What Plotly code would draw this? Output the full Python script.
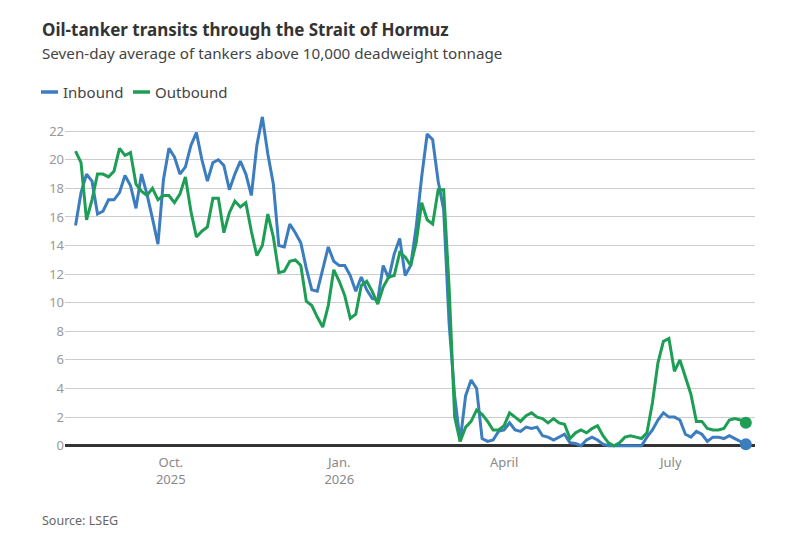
import pandas as pd
import plotly.graph_objects as go

# seven-day averages, read every third day from 10 Aug 2025
dates = pd.date_range("2025-08-10", periods=123, freq="3D")

inbound = [
    15.4, 17.7, 19.0, 18.5, 16.2, 16.4, 17.2, 17.2, 17.7, 18.9,
    18.2, 16.6, 19.0, 17.6, 15.9, 14.1, 18.6, 20.8, 20.2, 19.0,
    19.5, 21.0, 21.9, 20.0, 18.5, 19.8, 20.0, 19.6, 17.9, 19.0,
    19.9, 19.0, 17.5, 21.0, 23.0, 20.4, 18.3, 14.0, 13.9, 15.5,
    14.9, 14.2, 12.4, 10.9, 10.8, 12.3, 13.9, 12.9, 12.6, 12.6,
    11.9, 10.8, 11.8, 10.9, 10.3, 10.2, 12.6, 11.7, 13.4, 14.5,
    11.9, 12.6, 15.3, 18.8, 21.8, 21.4, 18.5, 16.5, 8.5, 3.5,
    0.3, 3.5, 4.6, 4.0, 0.5, 0.3, 0.4, 1.0, 1.1, 1.6,
    1.1, 1.0, 1.3, 1.2, 1.3, 0.7, 0.6, 0.4, 0.6, 0.8,
    0.2, 0.15, 0.0, 0.4, 0.6, 0.4, 0.1, 0.0, 0.0, 0.0,
    0.0, 0.0, 0.0, 0.0, 0.6, 1.1, 1.8, 2.3, 2.0, 2.0,
    1.8, 0.8, 0.6, 1.0, 0.8, 0.3, 0.6, 0.6, 0.5, 0.7,
    0.5, 0.3, 0.1,
]

outbound = [
    20.6, 19.8, 15.8, 17.2, 19.0, 19.0, 18.8, 19.2, 20.8, 20.3,
    20.5, 18.3, 17.8, 17.5, 18.0, 17.2, 17.5, 17.5, 17.0, 17.6,
    18.8, 16.4, 14.6, 15.0, 15.3, 17.3, 17.3, 14.9, 16.3, 17.1,
    16.7, 17.0, 15.0, 13.3, 14.0, 16.2, 14.6, 12.1, 12.2, 12.9,
    13.0, 12.6, 10.1, 9.8, 9.0, 8.3, 9.8, 12.3, 11.5, 10.5,
    8.9, 9.2, 11.2, 11.5, 10.8, 9.9, 11.1, 11.8, 11.9, 13.5,
    13.2, 12.6, 14.2, 17.0, 15.8, 15.5, 17.9, 17.9, 11.0, 2.0,
    0.3, 1.3, 1.7, 2.5, 2.2, 1.7, 1.1, 1.1, 1.4, 2.3,
    2.0, 1.7, 2.1, 2.3, 2.0, 1.9, 1.6, 1.9, 1.6, 1.5,
    0.5, 0.9, 1.1, 0.9, 1.2, 1.4, 0.7, 0.2, 0.0, 0.2,
    0.6, 0.7, 0.6, 0.5, 0.9, 3.0, 5.8, 7.3, 7.5, 5.2,
    6.0, 4.8, 3.6, 1.7, 1.7, 1.2, 1.1, 1.1, 1.2, 1.8,
    1.9, 1.8, 1.6,
]

tick_dates = ["2025-10-01", "2026-01-01", "2026-04-01", "2026-07-01"]
tick_text = ["Oct.<br>2025", "Jan.<br>2026", "April", "July"]

BLUE = "#3b7dbf"
GREEN = "#1e9e55"
FONT = "Noto Sans"

# plot box in pixels, used to place the text outside it
L, R, T, B = 65, 55, 114, 93
PW, PH = 810 - L - R, 543 - T - B


def px(x):
    return (x - L) / PW


def py(y):
    return (543 - B - y) / PH


fig = go.Figure()
for name, vals, col in [("Inbound", inbound, BLUE), ("Outbound", outbound, GREEN)]:
    fig.add_trace(go.Scatter(x=dates, y=vals, name=name, mode="lines",
                             line=dict(color=col, width=3), cliponaxis=False,
                             hoverinfo="skip"))
    # dot on the latest value
    fig.add_trace(go.Scatter(x=[dates[-1]], y=[vals[-1]], mode="markers",
                             marker=dict(color=col, size=12), cliponaxis=False,
                             hoverinfo="skip"))

fig.update_layout(
    width=810, height=543,
    margin=dict(l=L, r=R, t=T, b=B, autoexpand=False),
    paper_bgcolor="white", plot_bgcolor="white",
    font=dict(family=FONT, color="#444"),
    showlegend=False,
)

texts = [
    ("<b>Oil-tanker transits through the Strait of Hormuz</b>", 40, 29, 17, "#333"),
    ("Seven-day average of tankers above 10,000 deadweight tonnage", 40, 53, 15.2, "#444"),
    ("Inbound", 61, 92, 15, "#444"),
    ("Outbound", 153, 92, 15, "#444"),
    ("Source: LSEG", 40, 520, 12.5, "#666"),
]
for t, x, y, s, c in texts:
    fig.add_annotation(text=t, xref="paper", yref="paper", x=px(x), y=py(y),
                       xanchor="left", yanchor="middle", showarrow=False,
                       font=dict(size=s, color=c, family=FONT))

# legend keys
for x0, col in [(41, BLUE), (133, GREEN)]:
    fig.add_shape(type="line", xref="paper", yref="paper", x0=px(x0), x1=px(x0 + 17),
                  y0=py(92), y1=py(92), line=dict(color=col, width=3.5))

fig.update_xaxes(range=["2025-08-04 06:00", "2026-08-16"], tickvals=tick_dates,
                 ticktext=tick_text, showgrid=False, showline=False, ticks="",
                 ticklabelstandoff=3, tickfont=dict(size=13, color="#888"))
fig.update_yaxes(range=[-0.3, 23.2], tickvals=list(range(0, 23, 2)), showgrid=True,
                 gridcolor="#cccccc", gridwidth=1, zeroline=True, zerolinecolor="#333",
                 zerolinewidth=2.5, showline=False, ticks="",
                 tickfont=dict(size=13, color="#999"))

fig.write_html("out.html", config={"displayModeBar": False},
               post_script="document.body.style.margin='0';")
